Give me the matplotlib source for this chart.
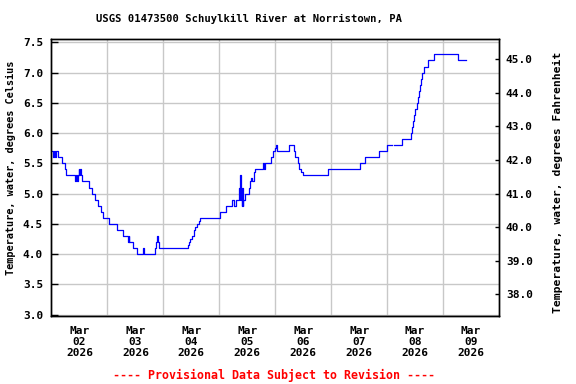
import numpy as np
import matplotlib.pyplot as plt

# water temperature, hours since Mar 02 2026 00:00 -> deg C (step data, nan = gap)
hours = [0.0, 0.6, 1.1, 1.5, 2.1, 2.6, 4.6, 5.6, 6.4, 10.2, 10.6, 11.0, 11.3, 11.6,
         11.9, 12.3, 12.6, 13.0, 15.9, 17.3, 18.7, 19.8, 21.3, 22.3, 24.6, 28.2,
         30.7, 32.7, 33.1, 33.4, 34.9, 36.7, 39.1, 39.9, 44.3, 45.0, 45.3, 45.6,
         46.0, 58.4, 59.0, 59.6, 60.1, 61.0, 61.7, 62.4, 63.1, 63.9, 72.1, 74.7,
         77.6, 78.1, 79.0, 80.3, 80.7, 81.0, 81.3, 81.6, 81.9, 82.1, 82.2, 83.1,
         84.6, 85.0, 85.6, 86.1, 86.7, 87.0, 87.4, 90.7, 91.0, 91.4, 94.1, 95.0,
         95.7, 96.4, 96.7, 101.7, 103.9, 104.6, 105.6, 106.3, 107.0, 107.7, 118.8,
         132.4, 134.4, 140.7, 144.1, 146.0, 147.0, 150.6, 154.1, 154.7, 155.3,
         155.7, 156.1, 156.7, 157.1, 157.7, 158.1, 158.6, 159.0, 160.0, 161.7,
         164.3, 174.6, 177.7]
temp_c = [5.7, 5.6, 5.7, 5.6, 5.7, 5.6, 5.5, 5.4, 5.3, 5.2, 5.3, 5.2, 5.3, 5.4,
          5.3, 5.4, 5.3, 5.2, 5.1, 5.0, 4.9, 4.8, 4.7, 4.6, 4.5, 4.4,
          4.3, 4.2, 4.3, 4.2, 4.1, 4.0, 4.1, 4.0, 4.1, 4.2, 4.3, 4.2,
          4.1, 4.15, 4.2, 4.25, 4.3, 4.4, 4.45, 4.5, 4.55, 4.6, 4.7, 4.8,
          4.9, 4.8, 4.9, 5.1, 4.9, 5.3, 4.9, 4.8, 5.1, 4.8, 4.9, 5.0,
          5.1, 5.2, 5.25, 5.2, 5.3, 5.35, 5.4, 5.5, 5.4, 5.5, 5.6, 5.7,
          5.75, 5.8, 5.7, 5.8, 5.7, 5.6, 5.5, 5.4, 5.35, 5.3, 5.4,
          5.5, 5.6, 5.7, 5.8, np.nan, 5.8, 5.9, 6.0, 6.1, 6.2,
          6.3, 6.4, 6.5, 6.6, 6.7, 6.8, 6.9, 7.0, 7.1, 7.2,
          7.3, 7.2, 7.2]

day_labels = ['Mar\n02\n2026', 'Mar\n03\n2026', 'Mar\n04\n2026', 'Mar\n05\n2026',
              'Mar\n06\n2026', 'Mar\n07\n2026', 'Mar\n08\n2026', 'Mar\n09\n2026']
c_ticks = [3.0, 3.5, 4.0, 4.5, 5.0, 5.5, 6.0, 6.5, 7.0, 7.5]
f_ticks = [38, 39, 40, 41, 42, 43, 44, 45]

plt.rcParams['font.family'] = 'DejaVu Sans Mono'
plt.rcParams['font.weight'] = 'bold'

fig = plt.figure(figsize=(5.76, 3.84), dpi=100)
ax = fig.add_axes([0.0894, 0.1771, 0.7769, 0.7213])

days = np.array(hours) / 24.0
ax.plot(days, temp_c, color='#0000ff', lw=0.9, drawstyle='steps-post')

ax.set_xlim(0, 8)
ax.set_ylim(2.977, 7.555)

# labels at noon, grid at midnight
ax.set_xticks(np.arange(8) + 0.5)
ax.set_xticklabels(day_labels, fontsize=8, linespacing=1.15)
ax.set_xticks(np.arange(1, 8), minor=True)
ax.tick_params(axis='x', which='both', length=0, pad=7)
ax.grid(True, which='minor', axis='x', color='#c8c8c8', lw=1)

ax.set_yticks(c_ticks)
ax.set_yticklabels(['%.1f' % v for v in c_ticks], fontsize=8)
ax.tick_params(axis='y', direction='in', length=5, width=1, pad=6)
ax.grid(True, which='major', axis='y', color='#c8c8c8', lw=1)
ax.set_axisbelow(True)

ax2 = ax.twinx()
ax2.set_ylim(2.977 * 1.8 + 32, 7.555 * 1.8 + 32)
ax2.set_yticks(f_ticks)
ax2.set_yticklabels(['%.1f' % v for v in f_ticks], fontsize=8)
ax2.tick_params(axis='y', direction='in', length=3, width=1, pad=5)

for a in (ax, ax2):
    for s in a.spines.values():
        s.set_linewidth(1)
        s.set_color('black')

fig.text(0.433, 0.9505, 'USGS 01473500 Schuylkill River at Norristown, PA',
         ha='center', va='center', fontsize=7.6)
fig.text(0.0195, 0.5617, 'Temperature, water, degrees Celsius',
         rotation=90, ha='center', va='center', fontsize=7.4)
fig.text(0.968, 0.5247, 'Temperature, water, degrees Fahrenheit',
         rotation=90, ha='center', va='center', fontsize=8.2)
fig.text(0.476, 0.0234, '---- Provisional Data Subject to Revision ----',
         ha='center', va='center', fontsize=8.4, color='#ff0000')

fig.savefig('out.png', dpi=100)
